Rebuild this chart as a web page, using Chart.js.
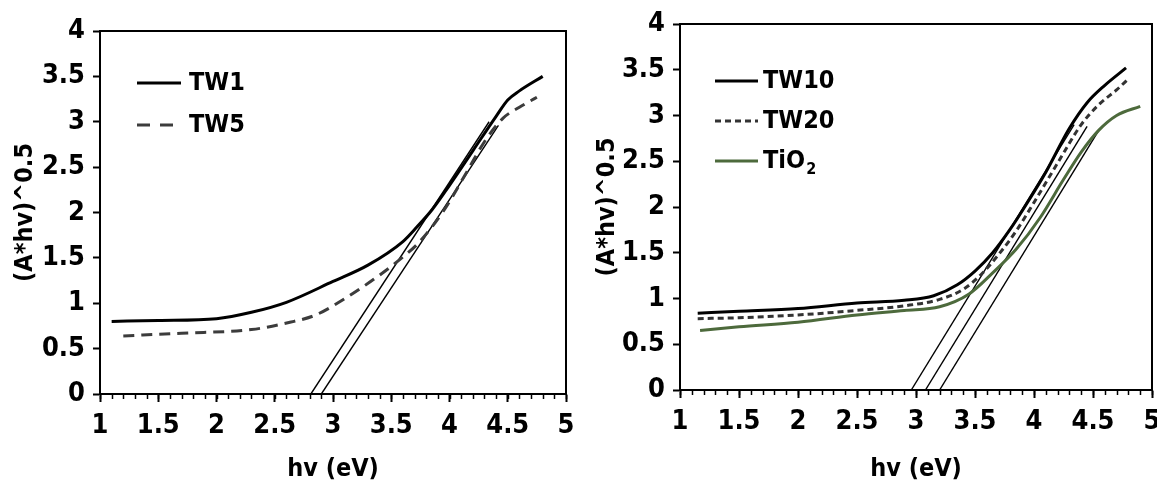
<!DOCTYPE html>
<html>
<head>
<meta charset="utf-8">
<script src="https://cdn.jsdelivr.net/npm/chart.js@4.4.1/dist/chart.umd.min.js"></script>
<style>
  body { margin: 0; background: #fff; }
  canvas { position: absolute; top: 0; }
  #left { left: 0; }
  #right { left: 580px; }
</style>
</head>
<body>
<canvas id="left" width="580" height="483"></canvas>
<canvas id="right" width="577" height="483"></canvas>
<script>
// tick labels
const xTickValues = [1, 1.5, 2, 2.5, 3, 3.5, 4, 4.5, 5];
const yTickValues = [0, 0.5, 1, 1.5, 2, 2.5, 3, 3.5, 4];

// left panel
const tw1X = [1.1, 1.5, 2.0, 2.3, 2.6, 3.0, 3.3, 3.6, 3.72, 3.85, 4.0, 4.2, 4.4, 4.5, 4.6, 4.8];
const tw1Y = [0.80, 0.81, 0.83, 0.90, 1.01, 1.24, 1.42, 1.68, 1.84, 2.03, 2.30, 2.68, 3.06, 3.24, 3.34, 3.50];
const tw5X = [1.2, 1.7, 2.3, 2.63, 2.85, 3.1, 3.4, 3.6, 3.73, 3.95, 4.15, 4.3, 4.46, 4.6, 4.75];
const tw5Y = [0.64, 0.67, 0.71, 0.79, 0.87, 1.05, 1.31, 1.51, 1.66, 2.02, 2.45, 2.78, 3.04, 3.16, 3.27];
const leftTangentsX = [[2.81, 4.34], [2.90, 4.42]];
const leftTangentsY = [[0, 3.0], [0, 2.96]];

// right panel
const tw10X = [1.15, 1.5, 2.0, 2.5, 2.9, 3.15, 3.35, 3.5, 3.65, 3.8, 3.95, 4.1, 4.3, 4.45, 4.6, 4.78];
const tw10Y = [0.84, 0.86, 0.89, 0.95, 0.98, 1.03, 1.15, 1.30, 1.50, 1.76, 2.06, 2.38, 2.86, 3.14, 3.33, 3.52];
const tw20X = [1.15, 1.5, 2.0, 2.5, 2.9, 3.2, 3.4, 3.55, 3.7, 3.85, 4.0, 4.2, 4.4, 4.55, 4.7, 4.8];
const tw20Y = [0.78, 0.79, 0.82, 0.87, 0.92, 0.99, 1.10, 1.26, 1.48, 1.74, 2.05, 2.48, 2.90, 3.12, 3.28, 3.40];
const tio2X = [1.17, 1.5, 2.0, 2.5, 2.9, 3.2, 3.45, 3.65, 3.85, 4.05, 4.25, 4.4, 4.55, 4.7, 4.9];
const tio2Y = [0.65, 0.69, 0.74, 0.82, 0.87, 0.91, 1.05, 1.28, 1.54, 1.88, 2.30, 2.60, 2.84, 3.00, 3.10];
const rightTangentsX = [[2.96, 4.34], [3.08, 4.45], [3.20, 4.55]];
const rightTangentsY = [[0, 2.9], [0, 2.88], [0, 2.84]];

const FONT = "'Liberation Sans Narrow', 'DejaVu Sans Condensed', 'Liberation Sans', sans-serif";

function pts(xs, ys) {
  return xs.map((x, i) => ({ x: x, y: ys[i] }));
}

function curve(label, xs, ys, color, dash, legendDash) {
  return {
    label: label,
    data: pts(xs, ys),
    borderColor: color,
    borderWidth: 3,
    borderDash: dash,
    legendDash: legendDash || dash,
    pointRadius: 0,
    fill: false,
    tension: 0.4,
    cubicInterpolationMode: "monotone",
  };
}

function tangents(xsList, ysList) {
  return xsList.map((xs, i) => ({
    label: "_tangent" + i,
    data: pts(xs, ysList[i]),
    borderColor: "#000",
    borderWidth: 1.4,
    pointRadius: 0,
    fill: false,
  }));
}

// frame, minor x ticks and the legend inside the plot
const framePlugin = {
  id: "frame",
  afterDatasetsDraw(chart, args, opts) {
    const ctx = chart.ctx;
    const a = chart.chartArea;
    const xs = chart.scales.x;
    ctx.save();
    ctx.strokeStyle = "#000";
    ctx.lineWidth = 2;
    ctx.strokeRect(a.left, a.top, a.right - a.left, a.bottom - a.top);

    ctx.lineWidth = 1.5;
    for (let v = xs.min; v <= xs.max + 1e-9; v += 0.1) {
      const px = Math.round(xs.getPixelForValue(v)) + 0.5;
      ctx.beginPath();
      ctx.moveTo(px, a.bottom);
      ctx.lineTo(px, a.bottom + 5);
      ctx.stroke();
    }

    let row = 0;
    chart.data.datasets.forEach((ds) => {
      if (ds.label.startsWith("_")) return;
      const y = opts.y + row * opts.gap;
      ctx.beginPath();
      ctx.setLineDash(ds.legendDash || []);
      ctx.strokeStyle = ds.borderColor;
      ctx.lineWidth = ds.borderWidth;
      ctx.moveTo(opts.x, y);
      ctx.lineTo(opts.x + opts.lineLen, y);
      ctx.stroke();
      ctx.setLineDash([]);
      ctx.fillStyle = "#000";
      ctx.textBaseline = "middle";
      ctx.textAlign = "left";
      ctx.font = "bold " + opts.size + "px " + FONT;
      const tx = opts.x + opts.lineLen + opts.textGap;
      const m = ds.label.match(/^(.*?)(\d+)$/);
      if (ds.subscript && m) {
        ctx.fillText(m[1], tx, y);
        const w = ctx.measureText(m[1]).width;
        ctx.font = "bold " + Math.round(opts.size * 0.65) + "px " + FONT;
        ctx.fillText(m[2], tx + w + 1, y + opts.size * 0.35);
      } else {
        ctx.fillText(ds.label, tx, y);
      }
      row++;
    });
    ctx.restore();
  },
};

function makeChart(id, datasets, box, legend) {
  return new Chart(document.getElementById(id), {
    type: "line",
    data: { datasets: datasets },
    options: {
      responsive: false,
      animation: false,
      events: [],
      layout: { padding: { left: 0, top: box.top, right: box.right, bottom: 0 } },
      plugins: {
        legend: { display: false },
        tooltip: { enabled: false },
        frame: legend,
      },
      scales: {
        x: {
          type: "linear",
          min: 1,
          max: 5,
          afterBuildTicks: (scale) => {
            scale.ticks = xTickValues.map((v) => ({ value: v }));
          },
          afterFit: (scale) => {
            scale.height = 483 - box.bottom;
            scale.paddingLeft = 0;
            scale.paddingRight = 0;
          },
          border: { color: "#000", width: 2 },
          grid: { drawOnChartArea: false, tickLength: 8, tickColor: "#000", tickWidth: 2 },
          ticks: {
            color: "#000",
            font: { family: FONT, size: 27, weight: "bold", lineHeight: 1 },
            padding: 10,
            maxRotation: 0,
            autoSkip: false,
            callback: (v) => String(v),
          },
          title: {
            display: true,
            text: "hv (eV)",
            color: "#000",
            font: { family: FONT, size: 25, weight: "bold", lineHeight: 1 },
            padding: { top: 0, bottom: 1 },
          },
        },
        y: {
          type: "linear",
          min: 0,
          max: 4,
          afterBuildTicks: (scale) => {
            scale.ticks = yTickValues.map((v) => ({ value: v }));
          },
          afterFit: (scale) => {
            scale.width = 100;
            scale.paddingTop = 0;
            scale.paddingBottom = 0;
          },
          border: { color: "#000", width: 2 },
          grid: { drawOnChartArea: false, tickLength: 7, tickColor: "#000", tickWidth: 2 },
          ticks: {
            color: "#000",
            font: { family: FONT, size: 27, weight: "bold", lineHeight: 1 },
            padding: 8,
            callback: (v) => String(v),
          },
          title: {
            display: true,
            text: "(A*hv)^0.5",
            color: "#000",
            font: { family: FONT, size: 25, weight: "bold", lineHeight: 1 },
            padding: { top: box.titleX - 12.5, bottom: 0 },
          },
        },
      },
    },
    plugins: [framePlugin],
  });
}

makeChart(
  "left",
  [
    curve("TW1", tw1X, tw1Y, "#000", []),
    curve("TW5", tw5X, tw5Y, "#3c3c3c", [11, 7], [13, 10]),
  ].concat(tangents(leftTangentsX, leftTangentsY)),
  { top: 31, right: 14, bottom: 394, titleX: 25 },
  { x: 137, y: 83, gap: 42, lineLen: 44, textGap: 8, size: 25 }
);

const tio2 = curve("TiO2", tio2X, tio2Y, "#4d6a3c", []);
tio2.subscript = true;
makeChart(
  "right",
  [
    curve("TW10", tw10X, tw10Y, "#000", []),
    curve("TW20", tw20X, tw20Y, "#333", [6, 4]),
    tio2,
  ].concat(tangents(rightTangentsX, rightTangentsY)),
  { top: 24, right: 5, bottom: 390, titleX: 27 },
  { x: 135, y: 81, gap: 40, lineLen: 43, textGap: 5, size: 25 }
);
</script>
</body>
</html>
